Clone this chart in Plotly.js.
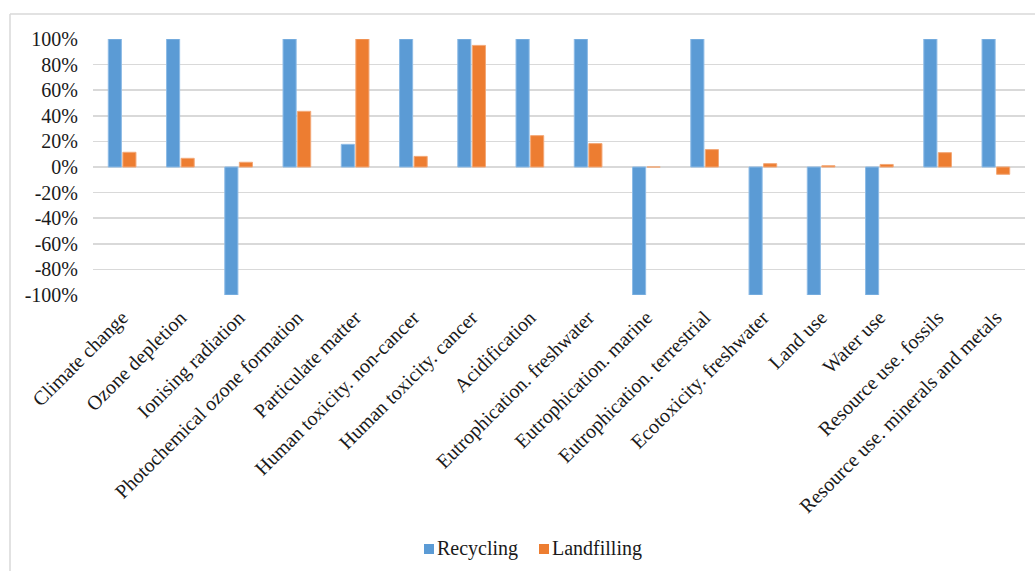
<!DOCTYPE html>
<html>
<head>
<meta charset="utf-8">
<script src="https://cdn.plot.ly/plotly-3.0.1.min.js"></script>
<style>
html,body{margin:0;padding:0;background:#fff;}
#chart{width:1035px;height:571px;}
</style>
</head>
<body>
<div id="chart"></div>
<script>
const categories = [
  "Climate change", "Ozone depletion", "Ionising radiation", "Photochemical ozone formation",
  "Particulate matter", "Human toxicity. non-cancer", "Human toxicity. cancer", "Acidification",
  "Eutrophication. freshwater", "Eutrophication. marine", "Eutrophication. terrestrial",
  "Ecotoxicity. freshwater", "Land use", "Water use", "Resource use. fossils",
  "Resource use. minerals and metals"
];
const recycling = [1.00, 1.00, -1.00, 1.00, 0.177, 1.00, 1.00, 1.00, 1.00, -1.00, 1.00, -1.00, -1.00, -1.00, 1.00, 1.00];
const landfilling = [0.115, 0.068, 0.037, 0.435, 1.00, 0.083, 0.95, 0.245, 0.183, 0.0, 0.136, 0.026, 0.01, 0.02, 0.112, -0.057];
const yTickVals = [-1, -0.8, -0.6, -0.4, -0.2, 0, 0.2, 0.4, 0.6, 0.8, 1];
const yTickText = ["-100%", "-80%", "-60%", "-40%", "-20%", "0%", "20%", "40%", "60%", "80%", "100%"];
const seriesNames = ["Recycling", "Landfilling"];
const seriesColors = ["#5B9BD5", "#ED7D31"];

function mkFont() {
  return {family: "Liberation Serif", size: 20, color: "#1a1a1a"};
}

const traces = [
  {type: "bar", name: seriesNames[0], x: categories, y: recycling, showlegend: false,
   marker: {color: seriesColors[0], line: {color: "#8dbbe6", width: 1}}},
  {type: "bar", name: seriesNames[1], x: categories, y: landfilling, showlegend: false,
   marker: {color: seriesColors[1], line: {color: "#f3a877", width: 1}}}
];

// pixel -> paper helpers (plot area: x 93..1025, y 39..295)
const px = v => (v - 93) / 932;
const py = v => (295 - v) / 256;

// legend drawn as swatches + text
const legendItems = [
  {sq: 424, tx: 436},
  {sq: 539, tx: 551}
];
const legendShapes = legendItems.map((it, i) => ({
  type: "rect", xref: "paper", yref: "paper",
  x0: px(it.sq), x1: px(it.sq + 10), y0: py(544), y1: py(554),
  fillcolor: seriesColors[i], line: {width: 0}
}));
const legendAnn = legendItems.map((it, i) => ({
  xref: "paper", yref: "paper", x: px(it.tx), y: py(548), xanchor: "left", yanchor: "middle",
  text: seriesNames[i], showarrow: false, font: mkFont(), borderpad: 0
}));

const layout = {
  width: 1035, height: 571,
  margin: {l: 93, r: 10, t: 39, b: 276},
  paper_bgcolor: "#fff", plot_bgcolor: "#fff",
  font: mkFont(),
  barmode: "group", bargap: 0.5, bargroupgap: 0.1,
  showlegend: false,
  xaxis: {type: "category", tickangle: -45, tickfont: mkFont(), showgrid: false, zeroline: false,
          showline: false, ticks: "", automargin: false, ticklabelstandoff: 6},
  yaxis: {range: [-1, 1], tickvals: yTickVals, ticktext: yTickText, tickfont: mkFont(),
          showgrid: true, gridcolor: "#d9d9d9", gridwidth: 1.5, zeroline: true,
          zerolinecolor: "#d9d9d9", zerolinewidth: 1.5, showline: false, ticks: "",
          ticklabelstandoff: 14, automargin: false},
  annotations: legendAnn,
  shapes: [
    {type: "line", xref: "paper", yref: "paper", x0: px(10), x1: px(1040),
     y0: py(14), y1: py(14), line: {color: "#d9d9d9", width: 1.5}},
    {type: "line", xref: "paper", yref: "paper", x0: px(10), x1: px(10),
     y0: py(14), y1: py(580), line: {color: "#d9d9d9", width: 1.5}}
  ].concat(legendShapes)
};

Plotly.newPlot("chart", traces, layout, {displayModeBar: false, staticPlot: true});
</script>
</body>
</html>
